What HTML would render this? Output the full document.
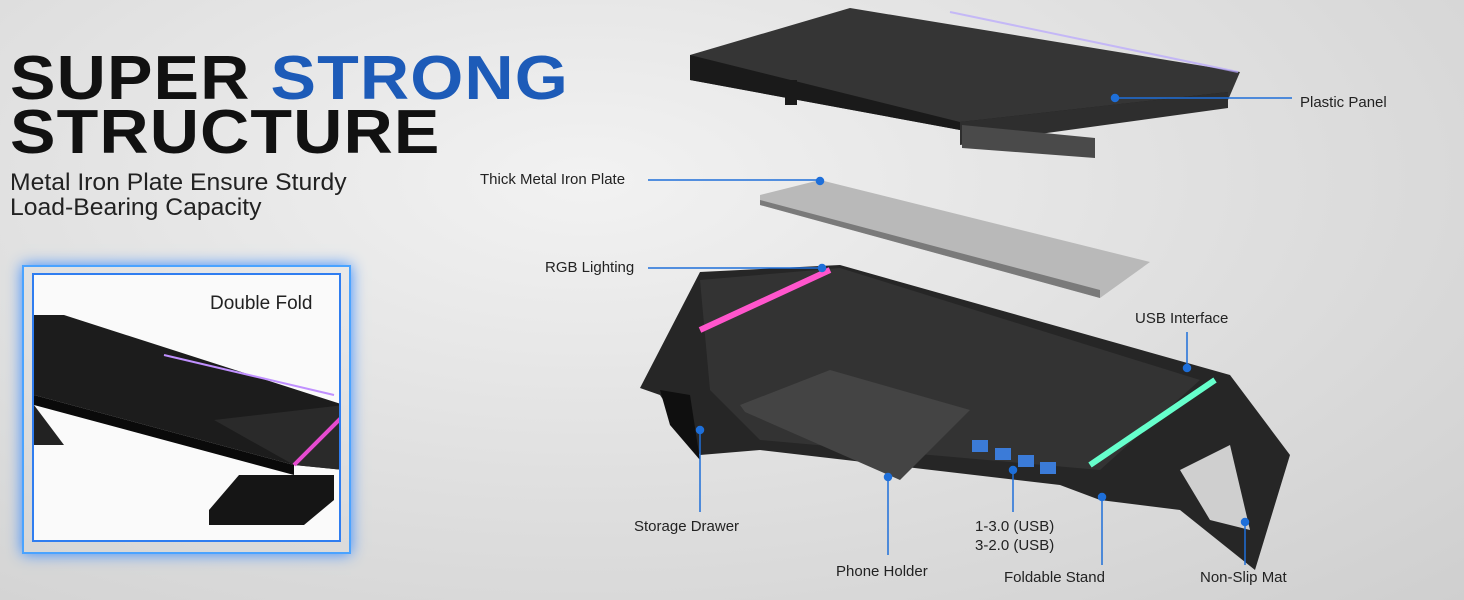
<!DOCTYPE html>
<html><head><meta charset="utf-8"><style>
html,body{margin:0;padding:0}
body{width:1464px;height:600px;overflow:hidden;position:relative;font-family:"Liberation Sans",sans-serif;
background:radial-gradient(ellipse at 40% 30%,#f2f2f2 0%,#e0e0e0 50%,#cfcfcf 100%);}
.t{position:absolute;font-weight:900;font-size:62px;letter-spacing:1px;line-height:1;transform:scaleX(1.1);transform-origin:left top;color:#111}
.s{position:absolute;font-size:24px;color:#222;left:10px;transform:scaleX(1.03);transform-origin:left top}
.lab{position:absolute;font-size:15px;color:#222;white-space:nowrap}
</style></head><body>
<div class="t" style="left:10px;top:48px">SUPER <span style="color:#1d5bb8">STRONG</span></div>
<div class="t" style="left:10px;top:102px">STRUCTURE</div>
<div class="s" style="top:169px">Metal Iron Plate Ensure Sturdy</div>
<div class="s" style="top:194px">Load-Bearing Capacity</div>

<div style="position:absolute;left:22px;top:265px;width:325px;height:285px;border:2px solid #4aa3ff;box-shadow:0 0 14px #3b8cff"></div>
<div style="position:absolute;left:32px;top:273px;width:305px;height:265px;background:#fafafa;border:2px solid #2f7df0;overflow:hidden">
<svg width="305" height="265" style="position:absolute;left:0;top:0">
<polygon points="0,40 30,40 310,130 310,195 260,190 0,120" fill="#1c1c1c"/>
<polygon points="180,145 310,130 310,195 260,190" fill="#2a2a2a"/>
<polygon points="0,120 260,190 260,200 0,130" fill="#0a0a0a"/>
<polygon points="175,235 205,200 300,200 300,225 270,250 175,250" fill="#151515"/>
<polygon points="0,130 30,170 0,170" fill="#222"/>
<line x1="260" y1="190" x2="310" y2="140" stroke="#e64bd0" stroke-width="4"/>
<line x1="130" y1="80" x2="300" y2="120" stroke="#c090ff" stroke-width="2"/>
</svg>
<div style="position:absolute;left:176px;top:18px;font-size:19px;color:#222">Double Fold</div>
</div>

<svg width="1464" height="600" style="position:absolute;left:0;top:0">
<polygon points="690,55 850,8 1240,72 1228,100 960,130 690,80" fill="#353535"/>
<polygon points="690,55 960,122 1228,92 1228,100 960,130 690,80" fill="#1a1a1a"/>
<polygon points="960,122 1228,92 1228,108 960,145" fill="#2e2e2e"/>
<rect x="785" y="80" width="12" height="25" fill="#1a1a1a"/>
<polygon points="962,125 1095,138 1095,158 962,148" fill="#4a4a4a"/>
<line x1="950" y1="12" x2="1238" y2="72" stroke="#b8a6ff" stroke-width="2" opacity=".7"/>
<polygon points="760,195 820,180 1150,262 1100,298 760,205" fill="#b9b9b9"/>
<polygon points="760,200 1100,290 1100,298 760,205" fill="#7a7a7a"/>
<polygon points="640,388 700,272 840,265 1230,375 1290,455 1255,570 1180,510 1100,500 1060,485 760,450 700,455 660,395" fill="#262626"/>
<polygon points="700,280 840,268 1200,380 1100,470 760,440 710,390" fill="#333"/>
<polygon points="740,405 830,370 970,410 900,480 745,412" fill="#444"/>
<polygon points="1180,470 1230,445 1250,530 1210,520" fill="#cfcfcf"/>
<polygon points="660,390 690,395 700,460 670,425" fill="#0f0f0f"/>
<line x1="700" y1="330" x2="830" y2="270" stroke="#ff55cc" stroke-width="6"/>
<line x1="1090" y1="465" x2="1215" y2="380" stroke="#66ffcc" stroke-width="6"/>
<g fill="#3b7bd8"><rect x="972" y="440" width="16" height="12"/><rect x="995" y="448" width="16" height="12"/><rect x="1018" y="455" width="16" height="12"/><rect x="1040" y="462" width="16" height="12"/></g>
<g stroke="#1e6fd9" stroke-width="1.5" fill="#1e6fd9">
<line x1="1115" y1="98" x2="1292" y2="98"/><circle cx="1115" cy="98" r="3.5"/>
<line x1="648" y1="180" x2="820" y2="180"/><circle cx="820" cy="181" r="3.5"/>
<line x1="648" y1="268" x2="822" y2="268"/><circle cx="822" cy="268" r="3.5"/>
<line x1="1187" y1="332" x2="1187" y2="368"/><circle cx="1187" cy="368" r="3.5"/>
<line x1="700" y1="430" x2="700" y2="512"/><circle cx="700" cy="430" r="3.5"/>
<line x1="888" y1="477" x2="888" y2="555"/><circle cx="888" cy="477" r="3.5"/>
<line x1="1013" y1="470" x2="1013" y2="512"/><circle cx="1013" cy="470" r="3.5"/>
<line x1="1102" y1="497" x2="1102" y2="565"/><circle cx="1102" cy="497" r="3.5"/>
<line x1="1245" y1="522" x2="1245" y2="565"/><circle cx="1245" cy="522" r="3.5"/>
</g>
</svg>
<div class="lab" style="left:1300px;top:94px">Plastic Panel</div>
<div class="lab" style="left:480px;top:171px">Thick Metal Iron Plate</div>
<div class="lab" style="left:545px;top:259px">RGB Lighting</div>
<div class="lab" style="left:1135px;top:310px">USB Interface</div>
<div class="lab" style="left:634px;top:518px">Storage Drawer</div>
<div class="lab" style="left:836px;top:563px">Phone Holder</div>
<div class="lab" style="left:975px;top:517px;line-height:19px">1-3.0 (USB)<br>3-2.0 (USB)</div>
<div class="lab" style="left:1004px;top:569px">Foldable Stand</div>
<div class="lab" style="left:1200px;top:569px">Non-Slip Mat</div>
</body></html>
